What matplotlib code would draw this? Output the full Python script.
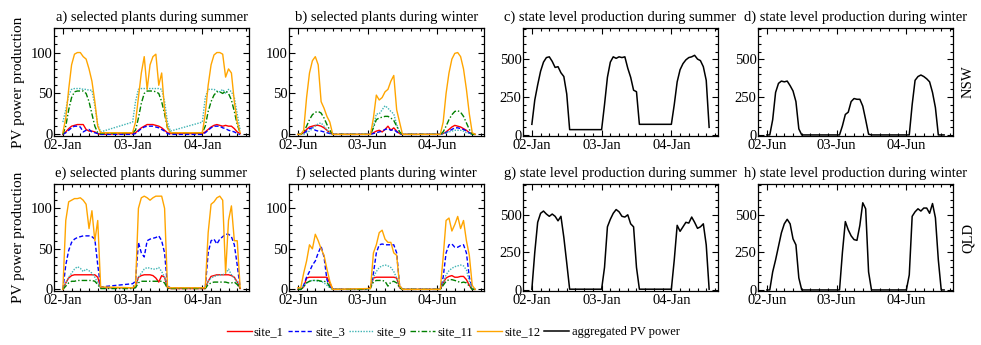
"""PV output of selected plants and state aggregates, NSW and QLD, summer vs winter.

Top row is NSW, bottom row is QLD. The two left columns show individual
sites, the two right columns the aggregated state-level PV power.
Writes out.png.
"""

import numpy as np
import matplotlib as mpl
import matplotlib.pyplot as plt
from matplotlib.ticker import MultipleLocator

# sample times (hours from the first day at 00:00); night hours are not recorded
sample_hours = list(range(14))
day_starts = [0, 24, 48]
hours = np.concatenate([np.array(sample_hours) + d for d in day_starts])

summer_days = ["02-Jan", "03-Jan", "04-Jan"]
winter_days = ["02-Jun", "03-Jun", "04-Jun"]

site_names = ["site_1", "site_3", "site_9", "site_11", "site_12"]

# ---- NSW, summer -----------------------------------------------------------
nsw_summer_site_1 = [0, 3, 7, 10, 11, 12, 12, 12, 6, 4, 4, 3, 1, 0,
                     1, 2, 5, 8, 10, 12, 12, 12, 11, 10, 8, 5, 2, 1,
                     1, 3, 6, 9, 11, 12, 11, 10, 11, 10, 10, 7, 3, 1]
nsw_summer_site_3 = [0, 2, 5, 8, 10, 10, 9, 3, 5, 6, 3, 2, 1, 0,
                     0, 1, 4, 7, 9, 10, 10, 10, 9, 8, 6, 4, 1, 0,
                     0, 2, 5, 8, 10, 10, 10, 8, 7, 5, 4, 3, 1, 0]
nsw_summer_site_9 = [15, 30, 48, 55, 56, 56, 56, 55, 55, 54, 54, 35, 12, 3,
                     15, 40, 55, 56, 56, 56, 56, 56, 56, 56, 55, 40, 15, 4,
                     15, 45, 55, 55, 55, 53, 52, 55, 50, 55, 52, 45, 25, 5]
nsw_summer_site_11 = [0, 10, 30, 45, 52, 53, 53, 53, 50, 40, 25, 10, 2, 1,
                      2, 5, 20, 38, 50, 53, 53, 53, 52, 50, 40, 25, 8, 2,
                      2, 10, 28, 40, 48, 52, 52, 50, 53, 50, 42, 28, 12, 2]
nsw_summer_site_12 = [2, 20, 55, 85, 98, 100, 100, 95, 92, 80, 65, 40, 10, 2,
                      2, 15, 45, 75, 95, 55, 85, 95, 98, 60, 75, 30, 8, 2,
                      2, 25, 60, 85, 97, 100, 100, 98, 70, 80, 75, 40, 15, 2]

# ---- NSW, winter -----------------------------------------------------------
nsw_winter_site_1 = [0, 0, 2, 6, 9, 10, 11, 11, 10, 8, 5, 2, 0, 0,
                     0, 0, 2, 4, 5, 3, 6, 10, 5, 8, 4, 1, 0, 0,
                     0, 0, 1, 3, 6, 9, 11, 10, 9, 7, 5, 2, 0, 0]
nsw_winter_site_3 = [0, 0, 1, 4, 7, 8, 5, 4, 4, 3, 2, 1, 0, 0,
                     0, 0, 1, 2, 3, 4, 6, 7, 5, 6, 3, 1, 0, 0,
                     0, 0, 1, 2, 4, 6, 8, 8, 7, 6, 4, 2, 0, 0]
nsw_winter_site_9 = [0, 0, 0, 2, 4, 7, 10, 13, 14, 10, 6, 2, 0, 0,
                     0, 0, 10, 25, 25, 30, 35, 32, 28, 25, 12, 3, 0, 0,
                     0, 0, 1, 2, 3, 4, 5, 5, 5, 4, 2, 1, 0, 0]
nsw_winter_site_11 = [0, 0, 3, 10, 18, 24, 27, 28, 26, 20, 12, 5, 0, 0,
                      0, 0, 8, 18, 20, 21, 22, 22, 20, 17, 10, 3, 0, 0,
                      0, 0, 3, 10, 18, 24, 28, 29, 27, 22, 14, 6, 0, 0]
nsw_winter_site_12 = [0, 0, 5, 45, 75, 90, 95, 85, 40, 32, 22, 15, 0, 0,
                      0, 0, 20, 48, 42, 45, 52, 55, 65, 72, 30, 15, 0, 0,
                      0, 0, 15, 50, 75, 92, 99, 100, 95, 80, 55, 25, 2, 0]

# ---- NSW, state aggregate ----------------------------------------------------
nsw_summer_state = [70, 230, 330, 420, 480, 510, 515, 485, 445, 450, 410, 385, 270, 35,
                    35, 200, 380, 480, 515, 505, 515, 510, 515, 440, 380, 295, 285, 70,
                    70, 200, 350, 430, 470, 495, 510, 515, 525, 500, 490, 450, 360, 50]
nsw_winter_state = [0, 0, 100, 280, 340, 355, 350, 355, 325, 290, 220, 40, 0, 0,
                    0, 0, 60, 135, 150, 220, 240, 235, 235, 190, 100, 5, 0, 0,
                    0, 0, 200, 360, 385, 395, 385, 370, 350, 280, 180, 0, 0, 0]

# ---- QLD, summer -----------------------------------------------------------
qld_summer_site_1 = [0, 8, 14, 17, 18, 18, 18, 18, 18, 18, 18, 18, 15, 2,
                     2, 3, 15, 17, 18, 18, 18, 17, 14, 9, 17, 15, 2, 1,
                     1, 1, 10, 16, 17, 18, 18, 18, 18, 18, 17, 15, 9, 1]
qld_summer_site_3 = [0, 30, 48, 58, 62, 64, 65, 66, 66, 66, 65, 62, 30, 3,
                     7, 10, 58, 45, 40, 60, 62, 63, 64, 66, 60, 45, 4, 2,
                     2, 2, 45, 60, 62, 56, 62, 65, 68, 68, 65, 55, 30, 2]
qld_summer_site_9 = [0, 8, 15, 20, 25, 28, 26, 22, 25, 23, 20, 15, 8, 2,
                     2, 3, 15, 20, 25, 27, 26, 25, 25, 27, 22, 15, 3, 2,
                     2, 2, 10, 14, 16, 17, 18, 18, 20, 25, 18, 14, 8, 2]
qld_summer_site_11 = [0, 4, 8, 10, 10, 11, 11, 11, 11, 11, 11, 10, 6, 1,
                      1, 2, 8, 10, 10, 10, 10, 10, 10, 10, 10, 8, 1, 1,
                      1, 1, 6, 8, 9, 9, 9, 9, 9, 8, 8, 9, 6, 1]
qld_summer_site_12 = [0, 85, 108, 110, 112, 112, 113, 110, 105, 75, 97, 60, 85, 3,
                      2, 5, 100, 113, 115, 113, 110, 113, 115, 115, 115, 100, 3, 2,
                      2, 2, 70, 105, 108, 113, 115, 110, 20, 85, 103, 60, 60, 2]

# ---- QLD, winter -----------------------------------------------------------
qld_winter_site_1 = [0, 0, 3, 14, 15, 15, 15, 15, 15, 15, 15, 8, 0, 0,
                     0, 3, 14, 15, 15, 15, 15, 15, 15, 15, 14, 2, 0, 0,
                     0, 0, 8, 14, 16, 17, 15, 15, 16, 16, 12, 5, 0, 0]
qld_winter_site_3 = [0, 0, 5, 15, 22, 30, 35, 45, 53, 40, 12, 3, 0, 0,
                     0, 2, 20, 45, 55, 56, 55, 55, 55, 55, 45, 5, 0, 0,
                     0, 0, 15, 45, 55, 56, 52, 52, 54, 55, 45, 15, 1, 0]
qld_winter_site_9 = [0, 0, 4, 8, 10, 11, 11, 10, 10, 8, 5, 2, 0, 0,
                     0, 1, 15, 22, 27, 29, 30, 29, 27, 22, 14, 3, 0, 0,
                     0, 0, 8, 18, 23, 26, 28, 29, 30, 29, 24, 10, 1, 0]
qld_winter_site_11 = [0, 0, 3, 8, 10, 11, 11, 11, 10, 10, 9, 3, 0, 0,
                      0, 2, 9, 11, 11, 11, 10, 4, 9, 10, 8, 2, 0, 0,
                      0, 0, 5, 10, 12, 12, 11, 10, 8, 9, 8, 4, 0, 0]
qld_winter_site_12 = [2, 2, 20, 35, 55, 50, 68, 60, 50, 42, 25, 10, 0, 0,
                      1, 1, 45, 55, 70, 73, 62, 58, 58, 45, 42, 5, 0, 0,
                      0, 0, 40, 85, 88, 72, 80, 90, 75, 85, 60, 42, 5, 0]

# ---- QLD, state aggregate ----------------------------------------------------
qld_summer_state = [5, 250, 450, 510, 525, 505, 490, 505, 490, 460, 490, 350, 180, 5,
                    5, 150, 420, 470, 510, 535, 520, 490, 485, 500, 440, 420, 150, 5,
                    5, 200, 430, 390, 420, 450, 445, 485, 450, 410, 420, 440, 300, 5]
qld_winter_state = [0, 0, 120, 200, 290, 380, 440, 470, 440, 340, 300, 80, 0, 0,
                    0, 0, 250, 455, 400, 360, 335, 330, 430, 580, 540, 120, 0, 0,
                    0, 100, 490, 520, 540, 525, 545, 545, 510, 575, 480, 200, 0, 0]

SITE_STYLES = {
    "site_1": dict(color="#ff0000", linestyle="-"),
    "site_3": dict(color="#0000ff", linestyle=(0, (3, 1.6))),
    "site_9": dict(color="#3fb4b4", linestyle=(0, (1, 1))),
    "site_11": dict(color="#008000", linestyle=(0, (4, 1.5, 1, 1.5))),
    "site_12": dict(color="#ffa500", linestyle="-"),
}

W, H = 981, 345
COL_LEFT = [54, 289, 523, 758]
COL_WIDTH = 195
ROWS = [(28, 136), (184, 291)]   # (top, bottom) in pixels


def style_axis(ax, day_labels, state_level):
    ax.set_xticks(day_starts)
    ax.set_xticklabels(day_labels, fontsize=10.5)
    ax.xaxis.set_minor_locator(MultipleLocator(3))
    if state_level:
        ax.set_ylim(-7, 705)
        ax.yaxis.set_major_locator(MultipleLocator(250))
        ax.yaxis.set_minor_locator(MultipleLocator(50))
    else:
        ax.set_ylim(-2, 130)
        ax.yaxis.set_major_locator(MultipleLocator(50))
        ax.yaxis.set_minor_locator(MultipleLocator(10))
    ax.tick_params(which="both", direction="in", top=True, right=True, width=0.8)
    ax.tick_params(which="major", length=4, pad=2)
    ax.tick_params(which="minor", length=2)
    ax.tick_params(axis="y", labelsize=10.5, pad=1)
    for sp in ax.spines.values():
        sp.set_linewidth(0.9)


def main():
    mpl.rcParams.update({
        "font.family": "serif",
        "font.serif": ["Liberation Serif", "DejaVu Serif"],
        "axes.xmargin": 0.05,
    })

    fig = plt.figure(figsize=(W / 100, H / 100), dpi=100)

    panels = [
        # row, col, title, day labels, data
        (0, 0, "a) selected plants during summer", summer_days,
         [nsw_summer_site_1, nsw_summer_site_3, nsw_summer_site_9, nsw_summer_site_11, nsw_summer_site_12]),
        (0, 1, "b) selected plants during winter", winter_days,
         [nsw_winter_site_1, nsw_winter_site_3, nsw_winter_site_9, nsw_winter_site_11, nsw_winter_site_12]),
        (0, 2, "c) state level production during summer", summer_days, nsw_summer_state),
        (0, 3, "d) state level production during winter", winter_days, nsw_winter_state),
        (1, 0, "e) selected plants during summer", summer_days,
         [qld_summer_site_1, qld_summer_site_3, qld_summer_site_9, qld_summer_site_11, qld_summer_site_12]),
        (1, 1, "f) selected plants during winter", winter_days,
         [qld_winter_site_1, qld_winter_site_3, qld_winter_site_9, qld_winter_site_11, qld_winter_site_12]),
        (1, 2, "g) state level production during summer", summer_days, qld_summer_state),
        (1, 3, "h) state level production during winter", winter_days, qld_winter_state),
    ]

    handles = []
    for row, col, title, days, data in panels:
        top, bottom = ROWS[row]
        ax = fig.add_axes([COL_LEFT[col] / W, 1 - bottom / H,
                           COL_WIDTH / W, (bottom - top) / H])
        state_level = col >= 2
        if state_level:
            line, = ax.plot(hours, data, color="black", lw=1.1,
                            label="aggregated PV power")
            if len(handles) < 6:
                handles.append(line)
        else:
            for name, series in zip(site_names, data):
                line, = ax.plot(hours, series, lw=1.0, label=name, **SITE_STYLES[name])
                if len(handles) < 5:
                    handles.append(line)
        style_axis(ax, days, state_level)
        ax.set_title(title, fontsize=10.5, pad=5)
        if col == 0:
            ax.set_ylabel("PV power production", fontsize=11, labelpad=4)
        if col == 3:
            ax.text(1.077, 0.5, "NSW" if row == 0 else "QLD", rotation=90,
                    transform=ax.transAxes, ha="center", va="center", fontsize=10.5)

    fig.legend(handles, [h.get_label() for h in handles], loc="center",
               bbox_to_anchor=(453 / W, 1 - 332 / H), ncol=6, frameon=False,
               fontsize=9, handlelength=2.0, handletextpad=0.2,
               columnspacing=0.3)

    fig.savefig("out.png", dpi=100)
    plt.close(fig)


if __name__ == "__main__":
    main()
